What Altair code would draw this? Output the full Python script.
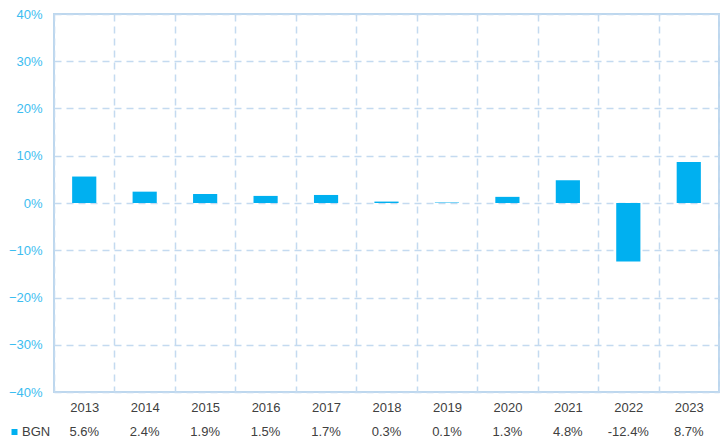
import altair as alt
import pandas as pd

years = ["2013", "2014", "2015", "2016", "2017", "2018", "2019", "2020", "2021", "2022", "2023"]
values = [5.6, 2.4, 1.9, 1.5, 1.7, 0.3, 0.1, 1.3, 4.8, -12.4, 8.7]
series_name = "BGN"
y_ticks = [-40, -30, -20, -10, 0, 10, 20, 30, 40]

df = pd.DataFrame({
    "year": years,
    "value": [v / 100 for v in values],
    "label": [f"{v:.1f}%" for v in values],
})
legend_df = pd.DataFrame({"name": [series_name]})

W, H = 665, 378
FONT = "Liberation Sans"
BLUE = "#00B0F0"
GRID = "#C4DAF0"

x_enc = alt.X(
    "year:N", sort=years,
    scale=alt.Scale(paddingInner=0, paddingOuter=0),
    axis=alt.Axis(title=None, labelAngle=0, tickBand="extent", grid=True,
                  gridDash=[7, 5], gridColor=GRID, gridWidth=1.5,
                  domain=False, ticks=False, labelColor="#404040",
                  labelFont=FONT, labelFontSize=13, labelPadding=9),
)
y_enc = alt.Y(
    "value:Q",
    scale=alt.Scale(domain=[-0.4, 0.4], nice=False, zero=False),
    axis=alt.Axis(title=None, format=".0%", values=[t / 100 for t in y_ticks],
                  grid=True, gridDash=[7, 5], gridColor=GRID, gridWidth=1.5,
                  domain=False, ticks=False, labelColor="#3CBDF0",
                  labelFont=FONT, labelFontSize=13, labelPadding=12),
)

bars = alt.Chart(df).mark_bar(color=BLUE, width={"band": 0.4}).encode(x=x_enc, y=y_enc)

row = alt.Chart(df).mark_text(font=FONT, fontSize=13, color="#404040",
                              baseline="middle", align="center").encode(
    x=alt.X("year:N", sort=years), y=alt.value(H + 40), text="label:N")

sq = alt.Chart(legend_df).mark_square(color=BLUE, size=36, opacity=1).encode(
    x=alt.value(-39.5), y=alt.value(H + 40))
lt = alt.Chart(legend_df).mark_text(font=FONT, fontSize=13, color="#404040",
                                    baseline="middle", align="left").encode(
    x=alt.value(-32), y=alt.value(H + 40), text="name:N")

chart = alt.layer(bars, row, sq, lt).properties(
    width=W, height=H,
    autosize=alt.AutoSizeParams(type="none"),
    padding={"left": 46, "top": 6, "right": 1, "bottom": 46},
).configure_view(stroke="#BDD7EE", strokeWidth=2)

chart.save("out.html", embed_options={"renderer": "svg", "actions": False})
